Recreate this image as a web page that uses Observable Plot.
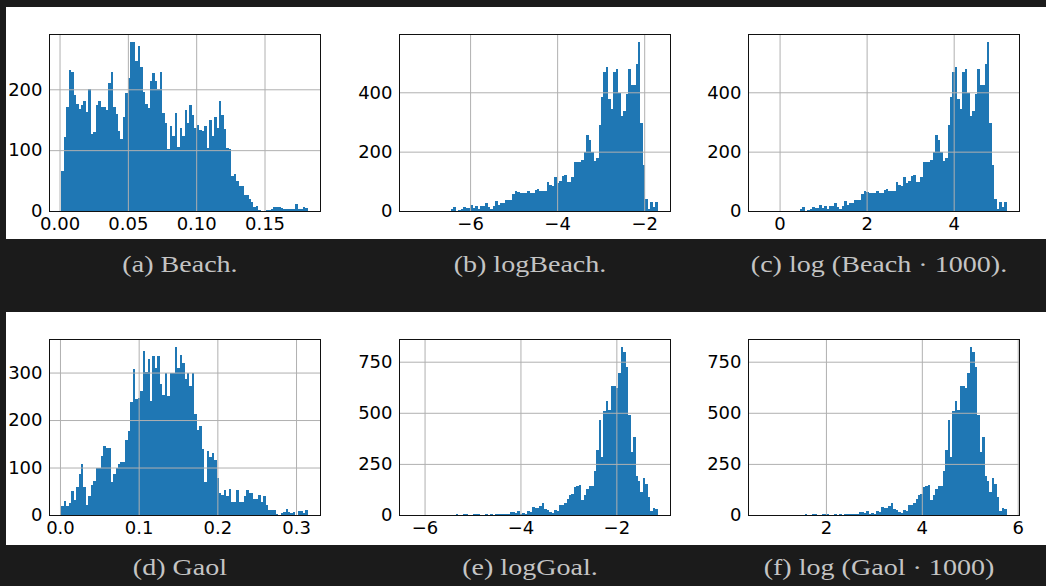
<!DOCTYPE html>
<html><head><meta charset="utf-8">
<script src="https://cdn.jsdelivr.net/npm/d3@7"></script>
<script src="https://cdn.jsdelivr.net/npm/@observablehq/plot@0.6"></script>
<style>
html,body{margin:0;padding:0;background:#1b1b1b;width:1046px;height:586px;overflow:hidden;}
#root{position:relative;width:1046px;height:586px;}
.band{position:absolute;left:6px;width:1040px;background:#fff;}
.cap{position:absolute;width:320px;text-align:center;font-family:"Liberation Serif",serif;font-size:23px;line-height:30px;color:#c4c4c4;transform:scaleX(1.22);white-space:nowrap;}
</style></head><body><div id="root"></div>
<script>
// ---- data: histogram counts (100 bins each) and bin ranges ----
const beachCounts = [
 66,122,171,231,229,190,176,168,175,181,
 163,200,127,130,175,180,171,171,166,211,
 229,171,160,132,118,155,194,218,277,277,
 247,271,237,196,176,170,213,226,214,201,
 228,161,145,102,140,124,161,105,137,124,
 166,145,175,158,137,142,133,132,140,104,
 150,123,155,137,180,158,135,104,102,58,
 61,50,41,41,27,27,20,15,7,8,
 2,0,0,1,1,3,7,7,7,5,
 3,3,3,3,4,11,3,3,6,5];
const beachRange = [0.0013, 0.1816];

const logBeachCounts = [
 1,0,0,0,0,0,0,0,0,1,
 0,0,0,0,0,0,6,12,1,2,
 6,12,9,9,19,9,16,6,16,16,
 26,12,6,16,33,19,26,26,36,36,
 36,56,67,63,60,60,60,67,60,60,
 70,73,67,67,67,97,87,84,114,94,
 101,118,121,97,97,114,165,165,165,172,
 200,256,240,200,168,179,290,385,467,484,
 379,345,467,477,399,321,338,395,477,426,
 423,497,568,297,155,40,6,29,12,29];
const logBeachRange = [-7.35, -1.69];

const gaolCounts = [
 18,30,18,26,51,32,60,87,108,58,
 22,39,64,72,100,100,125,146,142,142,
 70,87,98,108,112,112,157,176,239,308,
 245,246,262,345,302,328,241,334,309,334,
 275,252,298,250,298,298,353,309,336,321,
 287,300,271,298,212,178,188,140,70,134,
 123,130,115,77,47,43,52,41,54,28,
 28,52,28,28,39,52,47,47,34,34,
 43,28,39,22,11,11,11,3,1,5,
 7,13,7,5,7,1,9,9,5,11];
const gaolRange = [0.0017, 0.3148];

const logGaolCounts = [
 1,0,0,0,0,0,0,0,0,0,
 0,0,0,0,0,0,0,0,5,0,
 0,5,5,0,0,5,5,5,0,0,
 5,0,5,0,5,5,5,5,5,5,
 16,16,11,21,5,11,5,21,16,41,
 36,36,46,60,31,26,16,11,26,21,
 51,51,60,80,100,105,139,144,149,75,
 100,129,144,144,217,320,467,286,507,560,
 516,629,629,619,693,820,796,722,487,306,
 384,193,168,114,183,154,90,21,36,31];
const logGaolRange = [-6.276, -1.138];

const shift1000 = Math.log(1000);

// ---- tick values ----
const beachXTicks = [0, 0.05, 0.10, 0.15];
const beachYTicks = [0, 100, 200];
const logBeachXTicks = [-6, -4, -2];
const logBeachYTicks = [0, 200, 400];
const logBeach1000XTicks = [0, 2, 4];
const gaolXTicks = [0, 0.1, 0.2, 0.3];
const gaolYTicks = [0, 100, 200, 300];
const logGaolXTicks = [-6, -4, -2];
const logGaolYTicks = [0, 250, 500, 750];
const logGaol1000XTicks = [2, 4, 6];

const captions = ["(a) Beach.", "(b) logBeach.", "(c) log (Beach \u00b7 1000).",
                  "(d) Gaol", "(e) logGoal.", "(f) log (Gaol \u00b7 1000)"];

// ---- layout ----
const root = document.getElementById("root");
function band(top, h){ const d=document.createElement("div"); d.className="band"; d.style.top=top+"px"; d.style.height=h+"px"; root.appendChild(d); }
band(7, 232);
band(312, 233);

const FW = 271;
function panel({counts, range, shift=0, xTicks, xFormat, yTicks, left, top, fh}) {
  const n = counts.length, w = (range[1]-range[0])/n;
  const bins = counts.map((c,i)=>({x1: range[0]+shift+i*w, x2: range[0]+shift+(i+1)*w, y1: 0, y2: c}));
  const pad = (range[1]-range[0])*0.05;
  const ymax = d3.max(counts)*1.05;
  const mL=60, mT=10, mR=14, mB=36;
  const p = Plot.plot({
    width: FW+mL+mR, height: fh+mT+mB,
    marginLeft:mL, marginTop:mT, marginRight:mR, marginBottom:mB,
    x: {domain:[range[0]+shift-pad, range[1]+shift+pad]},
    y: {domain:[0, ymax]},
    style: {fontFamily:"'DejaVu Sans', sans-serif", fontSize:"18px", color:"#000", background:"transparent", overflow:"visible"},
    marks: [
      Plot.rect(bins, {x1:"x1", x2:"x2", y1:"y1", y2:"y2", fill:"#1f77b4", inset:0, shapeRendering:"crispEdges"}),
      Plot.gridX(xTicks, {stroke:"#b0b0b0", strokeOpacity:1, strokeWidth:1}),
      Plot.gridY(yTicks, {stroke:"#b0b0b0", strokeOpacity:1, strokeWidth:1}),
      Plot.frame({stroke:"#111", strokeWidth:1}),
      Plot.axisX(xTicks, {tickFormat:xFormat, tickSize:0, tickPadding:6, label:null, fontSize:18}),
      Plot.axisY(yTicks, {tickFormat:d3.format("d"), tickSize:0, tickPadding:7, label:null, fontSize:18})
    ]
  });
  p.style.position = "absolute";
  p.style.left = (left-mL)+"px";
  p.style.top = (top-mT)+"px";
  root.appendChild(p);
}
const fInt = d3.format("d");
panel({counts:beachCounts, range:beachRange, xTicks:beachXTicks, xFormat:d3.format(".2f"), yTicks:beachYTicks, left:49, top:34, fh:177});
panel({counts:logBeachCounts, range:logBeachRange, xTicks:logBeachXTicks, xFormat:fInt, yTicks:logBeachYTicks, left:399, top:34, fh:177});
panel({counts:logBeachCounts, range:logBeachRange, shift:shift1000, xTicks:logBeach1000XTicks, xFormat:fInt, yTicks:logBeachYTicks, left:748, top:34, fh:177});
panel({counts:gaolCounts, range:gaolRange, xTicks:gaolXTicks, xFormat:d3.format(".1f"), yTicks:gaolYTicks, left:49, top:339, fh:176});
panel({counts:logGaolCounts, range:logGaolRange, xTicks:logGaolXTicks, xFormat:fInt, yTicks:logGaolYTicks, left:399, top:339, fh:176});
panel({counts:logGaolCounts, range:logGaolRange, shift:shift1000, xTicks:logGaol1000XTicks, xFormat:fInt, yTicks:logGaolYTicks, left:748, top:339, fh:176});

const capCenters = [180, 530, 879];
captions.forEach((t,i)=>{
  const d=document.createElement("div"); d.className="cap"; d.textContent=t;
  d.style.left=(capCenters[i%3]-160)+"px";
  d.style.top=(i<3?250:553)+"px";
  root.appendChild(d);
});
</script></body></html>
